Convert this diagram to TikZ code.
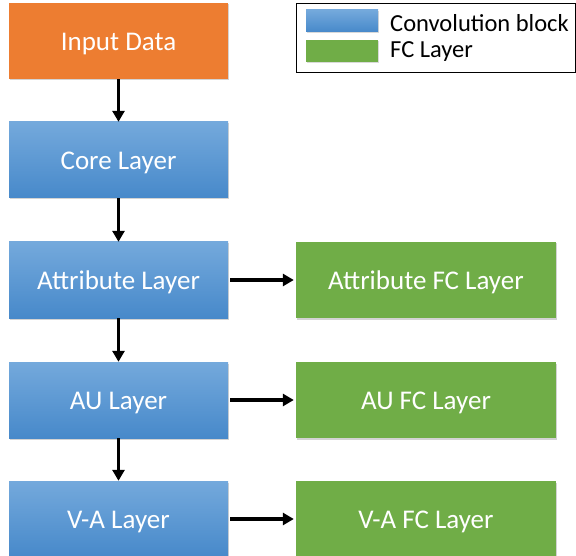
\documentclass[tikz,border=0pt]{standalone}
\usepackage{fontspec}
\setmainfont{Carlito}
\usetikzlibrary{arrows.meta,shadows}
\definecolor{orangeB}{HTML}{ED7D31}
\definecolor{greenB}{HTML}{70AD47}
\definecolor{blueTop}{HTML}{74A9DC}
\definecolor{blueBot}{HTML}{4789CA}
\tikzset{
  box/.style={minimum width=219pt,minimum height=76pt,inner sep=0pt,text=white,font=\fontsize{27}{30}\selectfont,
    text height=21pt,text depth=2pt,
    drop shadow={shadow xshift=1pt,shadow yshift=-1.5pt,opacity=0.35}},
  conv/.style={box,top color=blueTop,bottom color=blueBot},
  inp/.style={box,fill=orangeB},
  fc/.style={box,fill=greenB,minimum width=260pt},
  arr/.style={-{Triangle[length=11pt,width=12pt]},line width=3.2pt,black},
  swatch/.style={minimum width=72pt,minimum height=22pt,inner sep=0pt,drop shadow={shadow xshift=1pt,shadow yshift=-1pt,opacity=0.3}},
  legtext/.style={anchor=west,inner sep=0pt,font=\fontsize{24.5}{28}\selectfont}
}
\begin{document}
\begin{tikzpicture}[x=1pt,y=-1pt]
\useasboundingbox (0,0) rectangle (576,556);
\node[inp]  (in)   at (118.5,41)  {Input Data};
\node[conv] (core) at (118.5,160) {Core Layer};
\node[conv] (attr) at (118.5,280) {Attribute Layer};
\node[conv] (au)   at (118.5,400) {AU Layer};
\node[conv] (va)   at (118.5,519) {V-A Layer};
\node[fc]   (attrfc) at (426,280) {Attribute FC Layer};
\node[fc]   (aufc)   at (426,400) {AU FC Layer};
\node[fc]   (vafc)   at (426,519) {V-A FC Layer};
\draw[arr] (in) -- (core);
\draw[arr] (core) -- (attr);
\draw[arr] (attr) -- (au);
\draw[arr] (au) -- (va);
\draw[arr] ([xshift=2pt]attr.east) -- ([xshift=-2pt]attrfc.west);
\draw[arr] ([xshift=2pt]au.east) -- ([xshift=-2pt]aufc.west);
\draw[arr] ([xshift=2pt]va.east) -- ([xshift=-2pt]vafc.west);
% legend
\node[draw=black,line width=1pt,minimum width=279pt,minimum height=69pt,inner sep=0pt] (leg) at (435.5,38.5) {};
\node[swatch,top color=blueTop,bottom color=blueBot] (sw1) at (342,21) {};
\node[swatch,fill=greenB] (sw2) at (342,51) {};
\node[legtext] (t1) at (390,23) {Convolution block};
\node[legtext] (t2) at (390,52) {FC Layer};
\end{tikzpicture}
\end{document}
